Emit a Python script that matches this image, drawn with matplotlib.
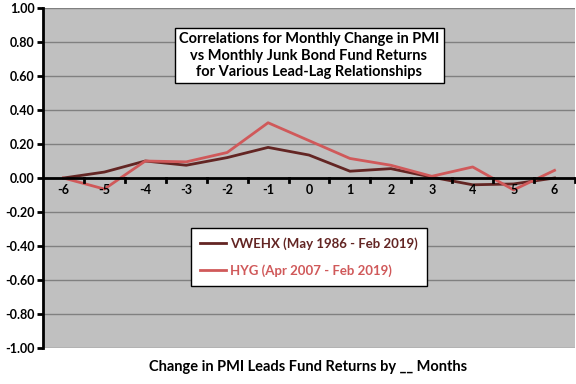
import matplotlib
matplotlib.use("Agg")
import matplotlib.pyplot as plt
from matplotlib.ticker import FormatStrFormatter

lags = [-6, -5, -4, -3, -2, -1, 0, 1, 2, 3, 4, 5, 6]
vwehx = [0.00, 0.035, 0.10, 0.075, 0.12, 0.18, 0.135, 0.04, 0.055, 0.005, -0.04, -0.035, 0.00]
hyg = [0.00, -0.065, 0.10, 0.095, 0.15, 0.325, 0.22, 0.115, 0.075, 0.01, 0.065, -0.07, 0.045]
yticks = [-1.0, -0.8, -0.6, -0.4, -0.2, 0.0, 0.2, 0.4, 0.6, 0.8, 1.0]

title = "Correlations for Monthly Change in PMI\nvs Monthly Junk Bond Fund Returns\nfor Various Lead-Lag Relationships"
xLabel = "Change in PMI Leads Fund Returns by __ Months"
names = ["VWEHX (May 1986 - Feb 2019)", "HYG (Apr 2007 - Feb 2019)"]
colors = ["#632523", "#D0595A"]

plt.rcParams["font.family"] = ["Lato", "DejaVu Sans"]
plt.rcParams["font.weight"] = "bold"

fig = plt.figure(figsize=(5.76, 3.84), dpi=100)
ax = fig.add_axes([43/576, 36/384, 532/576, 340/384])
ax.set_facecolor("#C0C0C0")

for y in yticks:
    ax.axhline(y, color="#808080", linewidth=1, zorder=1)

for vals, col, name in zip([vwehx, hyg], colors, names):
    ax.plot(lags, vals, color=col, linewidth=2, label=name, zorder=3)

ax.set_xlim(-6.5, 6.5)
ax.set_ylim(-1.0, 1.0)
ax.set_yticks(yticks)
ax.yaxis.set_major_formatter(FormatStrFormatter("%.2f"))
ax.tick_params(axis="y", labelsize=9, length=4, width=2, pad=2)

# x axis drawn at zero, labels below it
ax.set_xticks([])
ax.axhline(0, color="black", linewidth=2, zorder=4)
for b in [l + 0.5 for l in lags[:-1]] + [6.5]:
    ax.plot([b, b], [0, -0.025], color="black", linewidth=2, zorder=4, clip_on=False)
for l in lags:
    ax.text(l, -0.07, str(l), ha="center", va="center", fontsize=9, fontweight="bold")

for s in ["top", "right", "bottom"]:
    ax.spines[s].set_visible(False)
ax.spines["left"].set_linewidth(2)
ax.spines["left"].set_zorder(5)

ax.text(0.0, 0.72, title, ha="center", va="center", fontsize=10.5, fontweight="bold",
        linespacing=1.2,
        bbox=dict(boxstyle="square,pad=0.3", facecolor="white", edgecolor="black", linewidth=1),
        zorder=6)

leg = ax.legend(loc="center", bbox_to_anchor=(0.0, -0.465), bbox_transform=ax.transData,
                fontsize=9.5, frameon=True, fancybox=False, framealpha=1, handlelength=2.0,
                handletextpad=0.3, labelspacing=1.1, borderpad=0.7)
leg.get_frame().set_edgecolor("black")
leg.get_frame().set_linewidth(1)
for txt, col in zip(leg.get_texts(), colors):
    txt.set_color(col)

fig.text(308/576, 1 - 367/384, xLabel, ha="center", va="center", fontsize=10.5, fontweight="bold")

fig.savefig("out.png", dpi=100)
